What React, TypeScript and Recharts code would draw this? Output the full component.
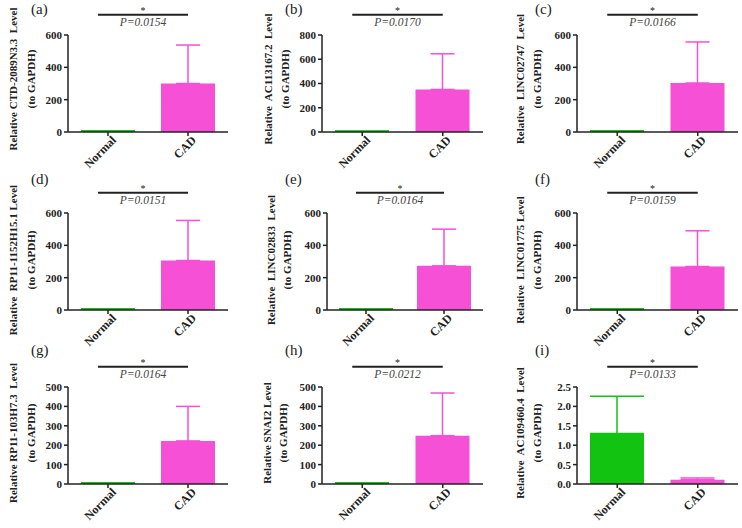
import React from 'react';
import { BarChart, Bar, Cell, XAxis, YAxis, ErrorBar, ReferenceLine } from 'recharts';

// values
const categories = ['Normal', 'CAD'];
const panelLetters = ['(a)', '(b)', '(c)', '(d)', '(e)', '(f)', '(g)', '(h)', '(i)'];
const yTitles = [
  'Relative CTD-2089N3.3  Level',
  'Relative  AC113167.2  Level',
  'Relative  LINC02747  Level',
  'Relative  RP11-1152H15.1 Level',
  'Relative  LINC02833  Level',
  'Relative  LINC01775 Level',
  'Relative RP11-103H7.3  Level',
  'Relative SNAI2 Level',
  'Relative  AC109460.4  Level',
];
const pValues = ['P=0.0154', 'P=0.0170', 'P=0.0166', 'P=0.0151', 'P=0.0164', 'P=0.0159', 'P=0.0164', 'P=0.0212', 'P=0.0133'];
const normalMeans = [5, 6, 5, 5, 4, 4, 4, 4, 1.3];
const normalSDs = [3, 3, 3, 3, 3, 3, 3, 3, 0.96];
const cadMeans = [300, 351, 303, 306, 273, 269, 222, 249, 0.11];
const cadSDs = [238, 294, 254, 248, 227, 221, 178, 220, 0.045];
const yTicks = [
  [0, 200, 400, 600],
  [0, 200, 400, 600, 800],
  [0, 200, 400, 600],
  [0, 200, 400, 600],
  [0, 200, 400, 600],
  [0, 200, 400, 600],
  [0, 100, 200, 300, 400, 500],
  [0, 100, 200, 300, 400, 500],
  [0, 0.5, 1.0, 1.5, 2.0, 2.5],
];

const GREEN = '#12c312';
const PINK = '#f550d6';
const INK = '#222';
const FONT = '"Liberation Serif", "Times New Roman", serif';
const Y_W = 30;
const X_H = 30;

// page layout (px); chart boxes overlap a little so rotated ticks are not clipped
const cols = [
  { left: 0, width: 245, axisX: 68, end: 228, letterX: 31, titleX: [13, 31] },
  { left: 245, width: 245, axisX: 322, end: 483, letterX: 40, titleX: [23, 40] },
  { left: 490, width: 252, axisX: 577, end: 738, letterX: 45, titleX: [30, 47] },
];
const rows = [
  { top: 0, height: 180, yTop: 35, y0: 132, letterY: 14, titleY: 79 },
  { top: 165, height: 190, yTop: 213, y0: 310, letterY: 19, titleY: 95 },
  { top: 338, height: 190, yTop: 387, y0: 484, letterY: 17, titleY: 95 },
];
const overrides: Record<number, any> = {
  4: { axisX: 327, titleX: [26, 42] },
  7: { titleX: [22, 38] },
};

const XTick = (props: any) => {
  const { x, y, payload } = props;
  return (
    <text
      transform={`translate(${x + 3},${y - 3}) rotate(-45)`}
      textAnchor="end"
      dy="0.7em"
      fontSize={12}
      fontWeight="bold"
      fill={INK}
    >
      {payload.value}
    </text>
  );
};

const PanelText = ({ letter, title, tx, ty, lx, ly }: any) => (
  <g>
    <text x={lx} y={ly} fontSize={15} fill={INK}>{letter}</text>
    <text
      x={tx[0]}
      y={ty}
      transform={`rotate(-90 ${tx[0]} ${ty})`}
      textAnchor="middle"
      dominantBaseline="central"
      fontSize={11}
      fontWeight="bold"
      fill={INK}
      style={{ whiteSpace: 'pre' }}
    >
      {title}
    </text>
    <text
      x={tx[1]}
      y={ty}
      transform={`rotate(-90 ${tx[1]} ${ty})`}
      textAnchor="middle"
      dominantBaseline="central"
      fontSize={11}
      fontWeight="bold"
      fill={INK}
    >
      (to GAPDH)
    </text>
  </g>
);

const SigBar = (props: any) => {
  const { x1, x2, y1, p } = props;
  const start = x1 - 10;
  const mid = (start + x2) / 2;
  return (
    <g>
      <line x1={start} y1={y1} x2={x2} y2={y1} stroke={INK} strokeWidth={2} />
      <text x={mid} y={y1 - 0.5} textAnchor="middle" fontSize={10} fill={INK}>*</text>
      <text x={mid} y={y1 + 11} textAnchor="middle" fontSize={11.5} fontStyle="italic" fill="#444">{p}</text>
    </g>
  );
};

const Panel = ({ i }: { i: number }) => {
  const row = rows[Math.floor(i / 3)];
  const col = { ...cols[i % 3], ...(overrides[i] || {}) };
  const ticks = yTicks[i];
  const yMax = ticks[ticks.length - 1];
  const data = [
    { name: categories[0], value: normalMeans[i], errN: [0, normalSDs[i]] },
    { name: categories[1], value: cadMeans[i], errC: [0, cadSDs[i]] },
  ];
  const margin = {
    left: col.axisX - col.left - Y_W,
    right: col.left + col.width - col.end,
    top: row.yTop - row.top,
    bottom: row.top + row.height - row.y0 - X_H,
  };
  return (
    <div style={{ position: 'absolute', left: col.left, top: row.top }}>
      <BarChart width={col.width} height={row.height} data={data} margin={margin} barSize={54}>
        <XAxis
          dataKey="name"
          height={X_H}
          interval={0}
          axisLine={{ stroke: INK, strokeWidth: 1.5 }}
          tickLine={{ stroke: INK, strokeWidth: 1.5 }}
          tickSize={4}
          tick={<XTick />}
        />
        <YAxis
          width={Y_W}
          domain={[0, yMax]}
          ticks={ticks}
          interval={0}
          axisLine={{ stroke: INK, strokeWidth: 1.5 }}
          tickLine={{ stroke: INK, strokeWidth: 1.5 }}
          tickSize={4}
          tick={{ fontSize: 11, fontWeight: 'bold', fill: INK }}
          tickFormatter={(v: number) => (yMax < 10 ? v.toFixed(1) : String(v))}
          label={
            <PanelText
              letter={panelLetters[i]}
              title={yTitles[i]}
              tx={col.titleX}
              ty={row.titleY}
              lx={col.letterX}
              ly={row.letterY}
            />
          }
        />
        <Bar dataKey="value" isAnimationActive={false}>
          {data.map((d, k) => (
            <Cell key={d.name} fill={k === 0 ? GREEN : PINK} />
          ))}
          <ErrorBar dataKey="errN" width={27} strokeWidth={1.5} stroke={GREEN} />
          <ErrorBar dataKey="errC" width={yMax < 10 ? 17 : 12} strokeWidth={1.5} stroke={PINK} />
        </Bar>
        <ReferenceLine
          segment={[
            { x: categories[0], y: yMax * 1.21 },
            { x: categories[1], y: yMax * 1.21 },
          ]}
          ifOverflow="visible"
          shape={(props: any) => <SigBar {...props} p={pValues[i]} />}
        />
      </BarChart>
    </div>
  );
};

export default function App() {
  return (
    <div
      style={{
        position: 'fixed',
        left: 0,
        top: 0,
        width: 742,
        height: 528,
        background: '#fff',
        fontFamily: FONT,
      }}
    >
      {panelLetters.map((_, i) => (
        <Panel key={i} i={i} />
      ))}
    </div>
  );
}
